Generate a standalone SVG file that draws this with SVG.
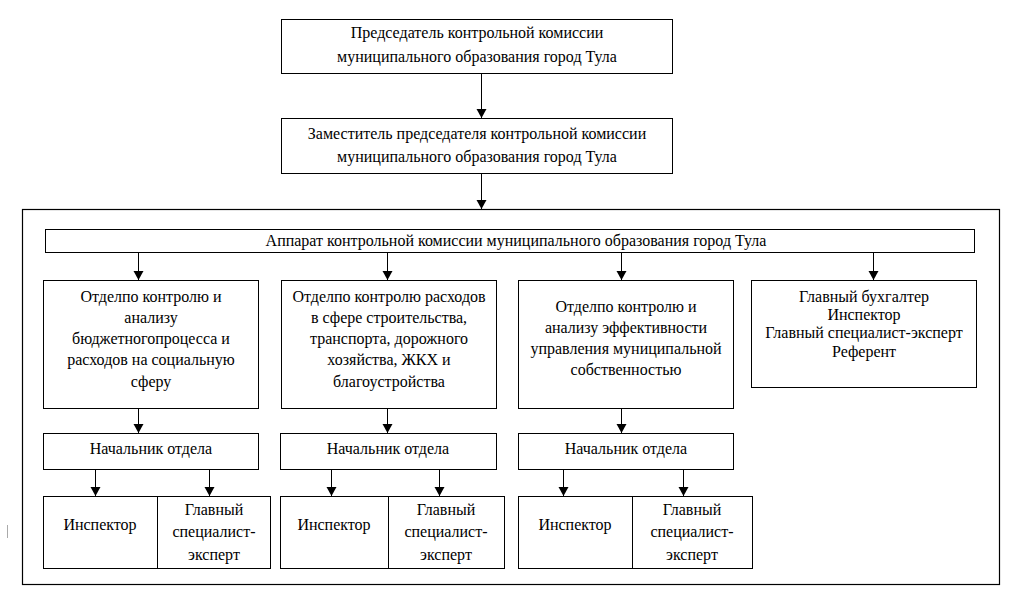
<svg xmlns="http://www.w3.org/2000/svg" width="1012" height="601" viewBox="0 0 1012 601" font-family="Liberation Serif, DejaVu Serif, serif">
<style>
.b{fill:#fff;stroke:#000;stroke-width:1}
.o{fill:none;stroke:#000;stroke-width:1.2}
.c{stroke:#000;stroke-width:1;fill:none;marker-end:url(#ah)}
text{font-size:16px;fill:#000;text-anchor:middle}
</style>
<defs>
<marker id="ah" markerUnits="userSpaceOnUse" markerWidth="10" markerHeight="11" refX="9" refY="5" orient="auto">
<path d="M0,0 L9,5 L0,10 Z" fill="#000"/>
</marker>
</defs>
<rect width="1012" height="601" fill="#fff"/>
<line x1="7.5" y1="525" x2="7.5" y2="538" stroke="#aaa" stroke-width="1"/>
<g id="outer"><rect class="o" x="22.5" y="209.5" width="977" height="375"/></g>
<g id="chair"><rect class="b" x="281.5" y="19.5" width="391" height="54"/>
<text x="477" y="38">Председатель контрольной комиссии</text>
<text x="477" y="62">муниципального образования город Тула</text></g>
<g id="deputy"><rect class="b" x="281.5" y="118.5" width="391" height="55"/>
<text x="477" y="139">Заместитель председателя контрольной комиссии</text>
<text x="477" y="162">муниципального образования город Тула</text></g>
<g id="apparat"><rect class="b" x="45.5" y="229.5" width="929" height="23"/>
<text x="516" y="246">Аппарат контрольной комиссии муниципального образования город Тула</text></g>
<g id="dept1"><rect class="b" x="43.5" y="280.5" width="215" height="128"/>
<text x="151" y="302">Отделпо контролю и</text>
<text x="151" y="323">анализу</text>
<text x="151" y="344">бюджетногопроцесса и</text>
<text x="151" y="365">расходов на социальную</text>
<text x="151" y="387">сферу</text></g>
<g id="dept2"><rect class="b" x="281.5" y="280.5" width="215" height="128"/>
<text x="389" y="302">Отделпо контролю расходов</text>
<text x="389" y="323">в сфере строительства,</text>
<text x="389" y="344">транспорта, дорожного</text>
<text x="389" y="365">хозяйства, ЖКХ и</text>
<text x="389" y="387">благоустройства</text></g>
<g id="dept3"><rect class="b" x="518.5" y="280.5" width="215" height="128"/>
<text x="626" y="312">Отделпо контролю и</text>
<text x="626" y="333">анализу эффективности</text>
<text x="626" y="354">управления муниципальной</text>
<text x="626" y="375">собственностью</text></g>
<g id="staff"><rect class="b" x="751.5" y="280.5" width="225" height="107"/>
<text x="864" y="302">Главный бухгалтер</text>
<text x="864" y="320">Инспектор</text>
<text x="864" y="338">Главный специалист-эксперт</text>
<text x="864" y="357">Референт</text></g>
<g id="head1"><rect class="b" x="43.5" y="433.5" width="215" height="36"/><text x="151" y="454">Начальник отдела</text></g>
<g id="head2"><rect class="b" x="280.5" y="433.5" width="216" height="36"/><text x="388" y="454">Начальник отдела</text></g>
<g id="head3"><rect class="b" x="518.5" y="433.5" width="215" height="36"/><text x="626" y="454">Начальник отдела</text></g>
<g id="insp1"><rect class="b" x="43.5" y="496.5" width="114" height="72"/><text x="100" y="530">Инспектор</text></g>
<g id="spec1"><rect class="b" x="157.5" y="496.5" width="113" height="72"/>
<text x="214" y="515">Главный</text><text x="214" y="537">специалист-</text><text x="214" y="560">эксперт</text></g>
<g id="insp2"><rect class="b" x="280.5" y="496.5" width="108" height="72"/><text x="334" y="530">Инспектор</text></g>
<g id="spec2"><rect class="b" x="388.5" y="496.5" width="116" height="72"/>
<text x="446" y="515">Главный</text><text x="446" y="537">специалист-</text><text x="446" y="560">эксперт</text></g>
<g id="insp3"><rect class="b" x="518.5" y="496.5" width="114" height="72"/><text x="575" y="530">Инспектор</text></g>
<g id="spec3"><rect class="b" x="632.5" y="496.5" width="120" height="72"/>
<text x="692" y="515">Главный</text><text x="692" y="537">специалист-</text><text x="692" y="560">эксперт</text></g>
<g id="connectors">
<line class="c" x1="481.5" y1="74" x2="481.5" y2="118"/>
<line class="c" x1="481.5" y1="174" x2="481.5" y2="209"/>
<line class="c" x1="138.5" y1="253" x2="138.5" y2="280"/>
<line class="c" x1="387.5" y1="253" x2="387.5" y2="280"/>
<line class="c" x1="621.5" y1="253" x2="621.5" y2="280"/>
<line class="c" x1="873.5" y1="253" x2="873.5" y2="280"/>
<line class="c" x1="138.5" y1="409" x2="138.5" y2="433"/>
<line class="c" x1="387.5" y1="409" x2="387.5" y2="433"/>
<line class="c" x1="621.5" y1="409" x2="621.5" y2="433"/>
<line class="c" x1="95.5" y1="470" x2="95.5" y2="496"/>
<line class="c" x1="209.5" y1="470" x2="209.5" y2="496"/>
<line class="c" x1="331.5" y1="470" x2="331.5" y2="496"/>
<line class="c" x1="439.5" y1="470" x2="439.5" y2="496"/>
<line class="c" x1="563.5" y1="470" x2="563.5" y2="496"/>
<line class="c" x1="683.5" y1="470" x2="683.5" y2="496"/>
</g>
</svg>
